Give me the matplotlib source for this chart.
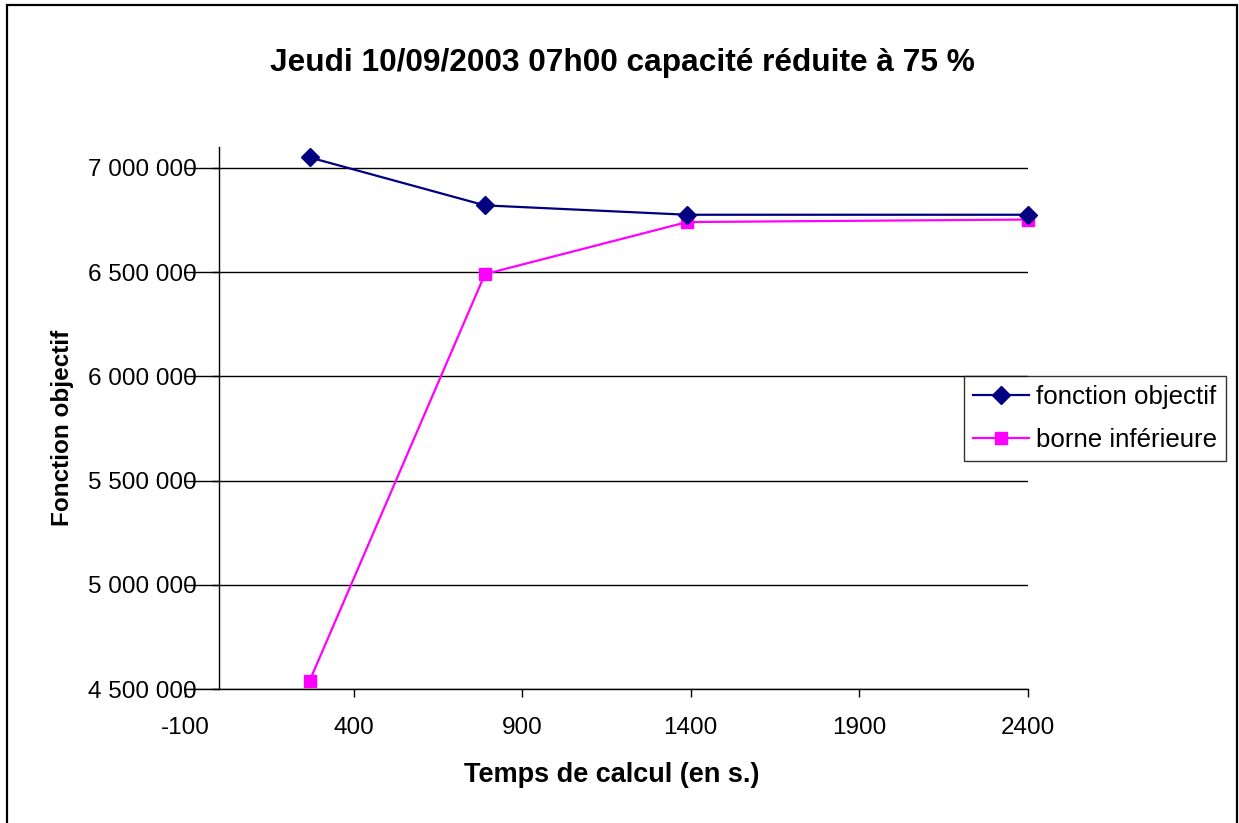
import numpy as np
import matplotlib
matplotlib.use("Agg")
import matplotlib.pyplot as plt
from matplotlib.patches import Rectangle
from matplotlib.ticker import FuncFormatter

plt.rcParams['font.family'] = ['Liberation Sans', 'DejaVu Sans']
plt.rcParams['axes.unicode_minus'] = False

# computation time (s) and objective values
temps = [270, 790, 1390, 2400]
fonction_objectif = [7050000, 6820000, 6775000, 6775000]
borne_inferieure = [4540000, 6490000, 6740000, 6752000]

x_ticks = [-100, 400, 900, 1400, 1900, 2400]
y_ticks = [4500000, 5000000, 5500000, 6000000, 6500000, 7000000]

W, H = 1239, 823
fig = plt.figure(figsize=(W / 100, H / 100), dpi=100)
ax = fig.add_axes([185 / W, 1 - 689 / H, (1027.5 - 185) / W, (689 - 147) / H])

ax.plot(temps, fonction_objectif, color='#000080', lw=1.6, marker='D', ms=9.5,
        label='fonction objectif', clip_on=False, zorder=4)
ax.plot(temps, borne_inferieure, color='#FF00FF', lw=1.6, marker='s', ms=8.5,
        label='borne inférieure', clip_on=False, zorder=3)

ax.set_xlim(-100, 2400)
ax.set_ylim(4500000, 7100000)
ax.set_xticks(x_ticks)
ax.set_yticks(y_ticks)
ax.xaxis.set_major_formatter(FuncFormatter(lambda v, p: '%d' % v))
ax.yaxis.set_major_formatter(FuncFormatter(lambda v, p: '{:,.0f}'.format(v).replace(',', ' ')))

# horizontal gridlines across the full width
ax.yaxis.grid(True, color='black', lw=1.0)
ax.set_axisbelow(True)

ax.spines['top'].set_visible(False)
ax.spines['right'].set_visible(False)
ax.spines['left'].set_position(('data', 0))
for s in ['left', 'bottom']:
    ax.spines[s].set_linewidth(1.0)

ax.tick_params(axis='x', direction='out', length=6, width=1, pad=14, labelsize=17.5)
ax.tick_params(axis='y', direction='out', length=5, width=1, pad=11, labelsize=17.5)

fig.text(622 / W, 1 - 63 / H, 'Jeudi 10/09/2003 07h00 capacité réduite à 75 %',
         ha='center', va='center', fontsize=22.8, fontweight='bold')
fig.text(612 / W, 1 - 775 / H, 'Temps de calcul (en s.)',
         ha='center', va='center', fontsize=19.5, fontweight='bold')
fig.text(62 / W, 1 - 428 / H, 'Fonction objectif', rotation=90,
         ha='center', va='center', fontsize=17.5, fontweight='bold')

leg = fig.legend(loc='upper left', bbox_to_anchor=(964 / W, 1 - 376 / H),
                 frameon=True, fancybox=False, fontsize=18.6, handlelength=2.15,
                 handletextpad=0.3, borderpad=0.35, labelspacing=0.72,
                 borderaxespad=0)
leg.get_frame().set_edgecolor('black')
leg.get_frame().set_linewidth(1.0)

# outer chart frame
fig.patches.append(Rectangle((7 / W, -0.05), (1237 - 7) / W, 1.05 - 5 / H,
                             transform=fig.transFigure, fill=False,
                             edgecolor='black', lw=1.6))

fig.savefig('out.png', dpi=100)
